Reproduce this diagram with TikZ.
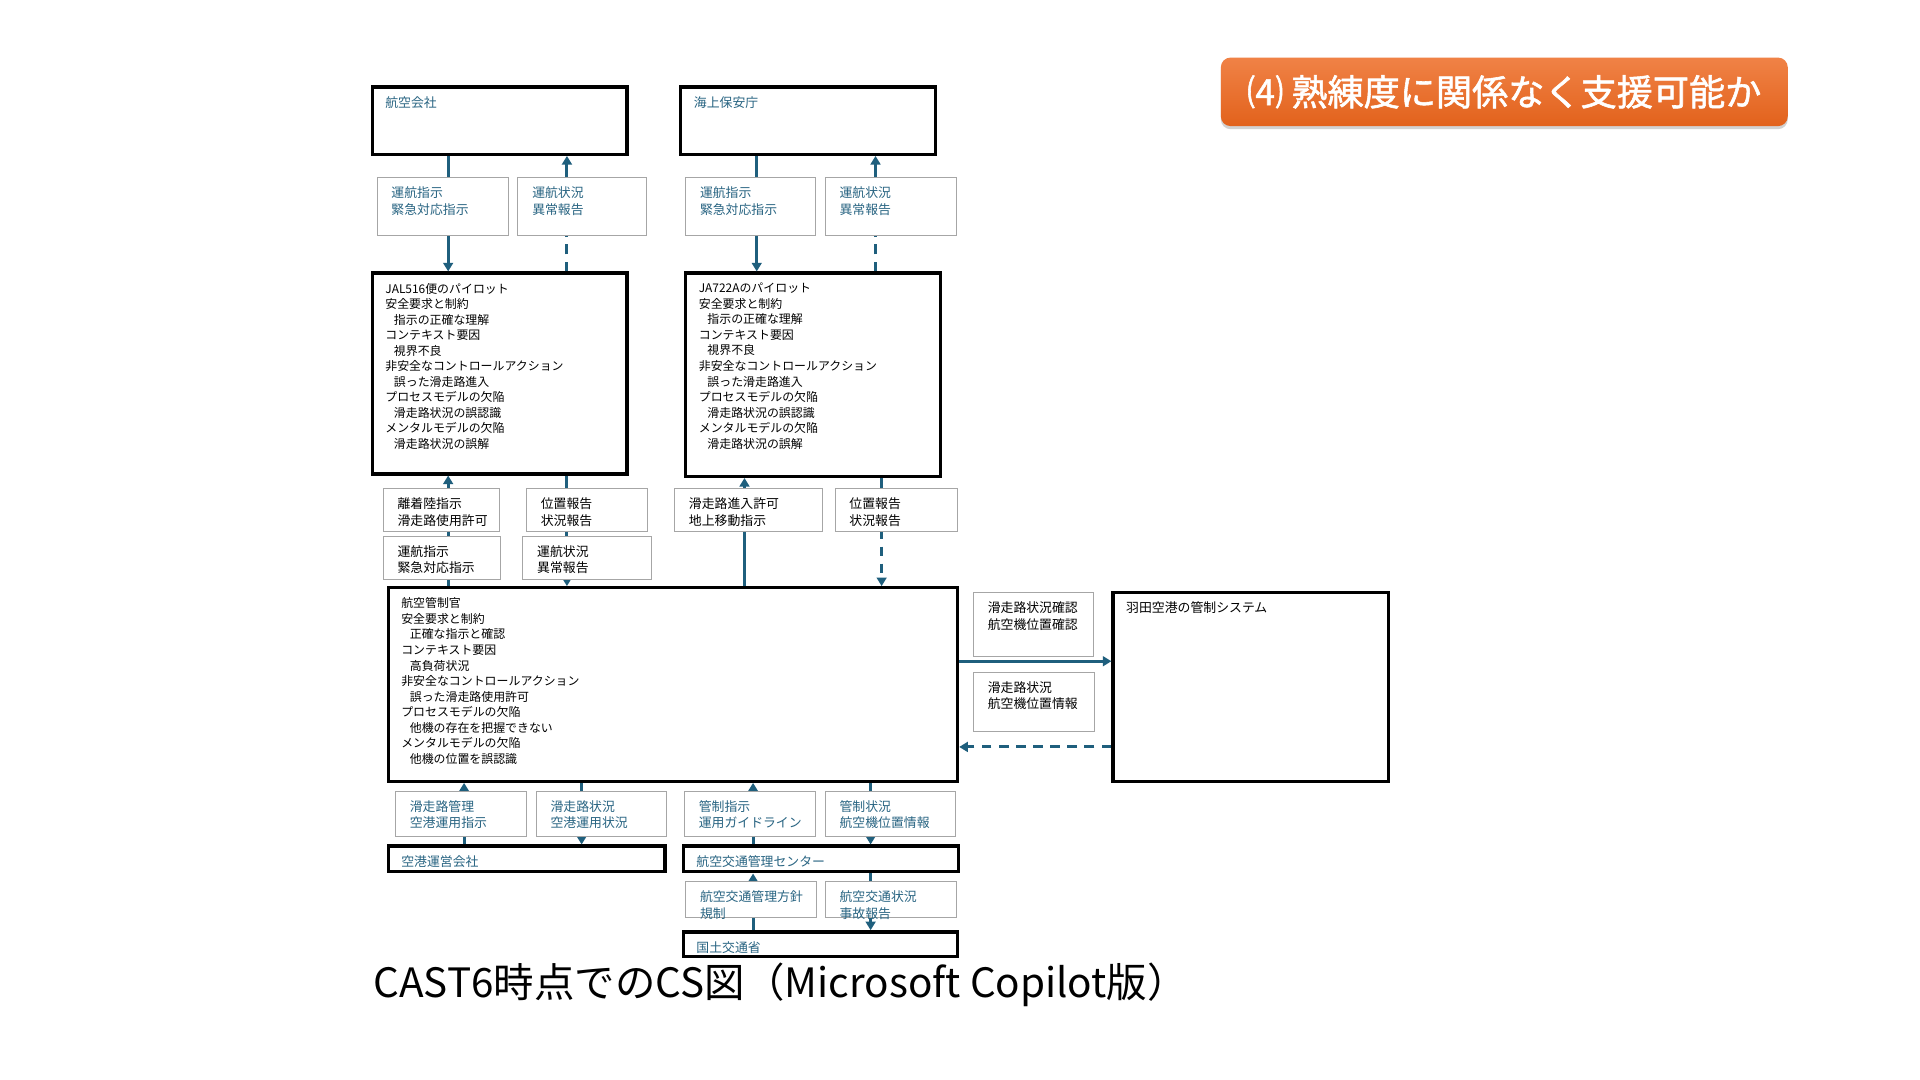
\documentclass[tikz,border=0pt]{standalone}
\usepackage{fontspec}
\setmainfont{Noto Sans CJK JP}
\newfontfamily\titlefont{Noto Sans CJK JP}[FakeBold=1.5]
\usetikzlibrary{arrows.meta,fit,shadows}
\definecolor{flowc}{RGB}{31,95,125}
\definecolor{tblue}{RGB}{40,100,130}
\definecolor{otop}{RGB}{240,130,70}
\definecolor{obot}{RGB}{226,98,28}
\begin{document}
\begin{tikzpicture}[x=1mm,y=-1mm,
  box/.style={draw=black, line width=2.7mm, inner sep=0pt},
  lbl/.style={draw=black!35, line width=0.8mm, fill=white, inner sep=0pt},
  btxt/.style={anchor=north west, inner sep=0pt, align=left, xshift=12mm, yshift=-9.5mm,
    font=\fontsize{27.7pt}{36.1pt}\selectfont},
  ttxt/.style={anchor=north west, inner sep=0pt, xshift=12mm, yshift=-9mm,
    font=\fontsize{29.9pt}{37.8pt}\selectfont},
  ltxt/.style={anchor=north west, inner sep=0pt, align=left, xshift=12mm, yshift=-8mm,
    font=\fontsize{29.9pt}{37.8pt}\selectfont},
  flow/.style={draw=flowc, line width=2.4mm, -{Triangle[width=8mm,length=7mm]}},
  dflow/.style={flow, dash pattern=on 8mm off 6mm}]
  \fill[white] (0,0) rectangle (1568,882);
  \useasboundingbox (0,0) rectangle (1568,882);
  \def\ind{\hspace*{7mm}}

  % titolo
  \node[fit={(997,47) (1460,103)}, inner sep=0pt, rounded corners=8mm,
    top color=otop, bottom color=obot,
    drop shadow={shadow xshift=0mm, shadow yshift=-2.5mm, opacity=0.35}] (title) {};
  \node[text=white, inner sep=0pt, font=\titlefont\fontsize{84pt}{84pt}\selectfont] (titlet) at (title.center) {⑷ 熟練度に関係なく支援可能か};

  % controllori e processi
  \node[box, fit={(304,71) (512,126)}] (airline) {};
  \node[box, fit={(556,71) (764,126)}] (coast) {};
  \node[box, fit={(304,223) (512,387)}] (jal) {};
  \node[box, fit={(560,223) (768,389)}] (ja) {};
  \node[box, fit={(317,480) (782,638)}] (atc) {};
  \node[box, fit={(909,484) (1134,638)}] (haneda) {};
  \node[box, fit={(317,691) (543,712)}] (apco) {};
  \node[box, fit={(558,691) (783,712)}] (atmc) {};
  \node[box, fit={(558,761) (782,781)}] (mlit) {};

  \node[ttxt, text=tblue] (airlinet) at (airline.north west) {航空会社};
  \node[ttxt, text=tblue] (coastt) at (coast.north west) {海上保安庁};
  \node[ttxt] (hanedat) at (haneda.north west) {羽田空港の管制システム};
  \node[ttxt, text=tblue] (apcot) at (apco.north west) {空港運営会社};
  \node[ttxt, text=tblue] (atmct) at (atmc.north west) {航空交通管理センター};
  \node[ttxt, text=tblue] (mlitt) at (mlit.north west) {国土交通省};

  \node[btxt] (jalt) at (jal.north west) {JAL516便のパイロット\\安全要求と制約\\\ind 指示の正確な理解\\
    コンテキスト要因\\\ind 視界不良\\非安全なコントロールアクション\\\ind 誤った滑走路進入\\
    プロセスモデルの欠陥\\\ind 滑走路状況の誤認識\\メンタルモデルの欠陥\\\ind 滑走路状況の誤解};
  \node[btxt] (jat) at (ja.north west) {JA722Aのパイロット\\安全要求と制約\\\ind 指示の正確な理解\\
    コンテキスト要因\\\ind 視界不良\\非安全なコントロールアクション\\\ind 誤った滑走路進入\\
    プロセスモデルの欠陥\\\ind 滑走路状況の誤認識\\メンタルモデルの欠陥\\\ind 滑走路状況の誤解};
  \node[btxt] (atct) at (atc.north west) {航空管制官\\安全要求と制約\\\ind 正確な指示と確認\\
    コンテキスト要因\\\ind 高負荷状況\\非安全なコントロールアクション\\\ind 誤った滑走路使用許可\\
    プロセスモデルの欠陥\\\ind 他機の存在を把握できない\\メンタルモデルの欠陥\\\ind 他機の位置を誤認識};

  % frecce
  \draw[flow] (airline.south -| 366,0) -- (jal.north -| 366,0);
  \draw[flow] (coast.south -| 618,0) -- (ja.north -| 618,0);
  \draw[flow] (atc.north -| 366,0) -- (jal.south -| 366,0);
  \draw[flow] (jal.south -| 463,0) -- (atc.north -| 463,0);
  \draw[flow] (atc.north -| 608,0) -- (ja.south -| 608,0);
  \draw[dflow] (ja.south -| 720,0) -- (atc.north -| 720,0);
  \draw[flow] (atc.east |- 0,540) -- (haneda.west |- 0,540);
  \draw[dflow] (haneda.west |- 0,610) -- (atc.east |- 0,610);
  \draw[flow] (apco.north -| 379,0) -- (atc.south -| 379,0);
  \draw[flow] (atc.south -| 475,0) -- (apco.north -| 475,0);
  \draw[flow] (atmc.north -| 615,0) -- (atc.south -| 615,0);
  \draw[flow] (atc.south -| 711,0) -- (atmc.north -| 711,0);
  \draw[flow] (mlit.north -| 615,0) -- (atmc.south -| 615,0);
  \draw[flow] (atmc.south -| 711,0) -- (mlit.north -| 711,0);

  % etichette
  \node[lbl, fit={(308,145) (415,192)}] (la1) {};
  \node[ltxt, text=tblue] (la1t) at (la1.north west) {運航指示\\緊急対応指示};
  \node[lbl, fit={(423,145) (528,192)}] (la2) {};
  \node[ltxt, text=tblue] (la2t) at (la2.north west) {運航状況\\異常報告};
  \node[lbl, fit={(560,145) (666,192)}] (lc1) {};
  \node[ltxt, text=tblue] (lc1t) at (lc1.north west) {運航指示\\緊急対応指示};
  \node[lbl, fit={(674,145) (781,192)}] (lc2) {};
  \node[ltxt, text=tblue] (lc2t) at (lc2.north west) {運航状況\\異常報告};

  \node[lbl, fit={(313,399) (408,434)}] (lj1) {};
  \node[ltxt] (lj1t) at (lj1.north west) {離着陸指示\\滑走路使用許可};
  \node[lbl, fit={(430,399) (529,434)}] (lj2) {};
  \node[ltxt] (lj2t) at (lj2.north west) {位置報告\\状況報告};
  \node[lbl, fit={(313,438) (409,473)}] (lj3) {};
  \node[ltxt] (lj3t) at (lj3.north west) {運航指示\\緊急対応指示};
  \node[lbl, fit={(427,438) (532,473)}] (lj4) {};
  \node[ltxt] (lj4t) at (lj4.north west) {運航状況\\異常報告};
  \node[lbl, fit={(551,399) (672,434)}] (lk1) {};
  \node[ltxt] (lk1t) at (lk1.north west) {滑走路進入許可\\地上移動指示};
  \node[lbl, fit={(682,399) (782,434)}] (lk2) {};
  \node[ltxt] (lk2t) at (lk2.north west) {位置報告\\状況報告};

  \node[lbl, fit={(795,484) (893,536)}] (lh1) {};
  \node[ltxt] (lh1t) at (lh1.north west) {滑走路状況確認\\航空機位置確認};
  \node[lbl, fit={(795,549) (894,597)}] (lh2) {};
  \node[ltxt] (lh2t) at (lh2.north west) {滑走路状況\\航空機位置情報};

  \node[lbl, fit={(323,646) (430,683)}] (lb1) {};
  \node[ltxt, text=tblue] (lb1t) at (lb1.north west) {滑走路管理\\空港運用指示};
  \node[lbl, fit={(438,646) (544,683)}] (lb2) {};
  \node[ltxt, text=tblue] (lb2t) at (lb2.north west) {滑走路状況\\空港運用状況};
  \node[lbl, fit={(559,646) (666,683)}] (lb3) {};
  \node[ltxt, text=tblue] (lb3t) at (lb3.north west) {管制指示\\運用ガイドライン};
  \node[lbl, fit={(674,646) (780,683)}] (lb4) {};
  \node[ltxt, text=tblue] (lb4t) at (lb4.north west) {管制状況\\航空機位置情報};
  \node[lbl, fit={(560,720) (667,749)}] (lb5) {};
  \node[ltxt, text=tblue] (lb5t) at (lb5.north west) {航空交通管理方針\\規制};
  \node[lbl, fit={(674,720) (781,749)}] (lb6) {};
  \node[ltxt, text=tblue] (lb6t) at (lb6.north west) {航空交通状況\\事故報告};

  % ritorni tratteggiati
  \draw[dflow, -] (jal.north -| 463,0) -- (la2.south -| 463,0);
  \draw[flow] (la2.north -| 463,0) -- (airline.south -| 463,0);
  \draw[dflow, -] (ja.north -| 715,0) -- (lc2.south -| 715,0);
  \draw[flow] (lc2.north -| 715,0) -- (coast.south -| 715,0);

  \node[anchor=base west, inner sep=0pt, font=\fontsize{93.9pt}{94pt}\selectfont] (caption) at (305,815) {CAST6時点でのCS図（Microsoft Copilot版）};
\end{tikzpicture}
\end{document}
